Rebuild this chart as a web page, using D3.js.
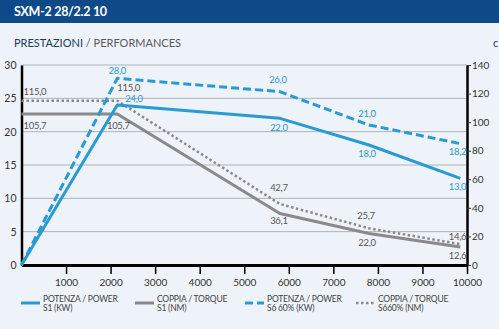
<!DOCTYPE html>
<html>
<head>
<meta charset="utf-8">
<script src="https://cdn.jsdelivr.net/npm/d3@7"></script>
<style>
  body { margin: 0; background: #eef3fa; }
  svg { display: block; font-family: Lato, "Open Sans", sans-serif; }
</style>
</head>
<body>
<svg id="chart" width="499" height="329"></svg>
<script>
// rpm where the curves bend
const rpm = [0, 2150, 5800, 7800, 9850];
const rpmTorque = [0, 2150, 5800, 7800, 9850];

// power (kW, left axis)
const powerS1 = [0, 24.0, 22.0, 18.0, 13.0];
const powerS6 = [0, 28.0, 26.0, 21.0, 18.2];
// torque (Nm, right axis)
const torqueS1 = [105.7, 105.7, 36.1, 22.0, 12.6];
const torqueS6 = [115.0, 115.0, 42.7, 25.7, 14.6];

const leftTicks = [0, 5, 10, 15, 20, 25, 30];
const rightTicks = [0, 20, 40, 60, 80, 100, 120, 140];
const xTicks = [1000, 2000, 3000, 4000, 5000, 6000, 7000, 8000, 9000, 10000];

const legendNames = [
    ["POTENZA / POWER", "S1 (KW)"],
    ["COPPIA / TORQUE", "S1 (NM)"],
    ["POTENZA / POWER", "S6 60% (KW)"],
    ["COPPIA / TORQUE", "S660% (NM)"]
];

const blue = "#2a9ad5";
const grey = "#8a8a8a";

const svg = d3.select("#chart");

const x = d3.scaleLinear().domain([0, 10000]).range([21.5, 467]);
const yL = d3.scaleLinear().domain([0, 30]).range([265, 65]);
const yR = d3.scaleLinear().domain([0, 140]).range([265, 65]);

// background + header
svg.append("rect")
    .attr("width", 499)
    .attr("height", 329)
    .attr("fill", "#eef3fa");
svg.append("rect")
    .attr("width", 499)
    .attr("height", 23)
    .attr("fill", "#0e4a87");
svg.append("text")
    .attr("x", 14)
    .attr("y", 16)
    .attr("fill", "#fff")
    .attr("font-weight", "bold")
    .attr("font-size", 12.5)
    .attr("letter-spacing", -0.3)
    .text("SXM-2 28/2.2 10");

const sub = svg.append("text")
    .attr("x", 14)
    .attr("y", 47)
    .attr("font-size", 11);
sub.append("tspan").attr("fill", "#1d3c5e").text("PRESTAZIONI");
sub.append("tspan").attr("fill", "#5a5a5a").text(" / PERFORMANCES");
svg.append("text")
    .attr("x", 493)
    .attr("y", 47)
    .attr("font-size", 11)
    .attr("fill", "#1d3c5e")
    .text("c");

// grid
svg.append("g")
    .selectAll("line")
    .data(leftTicks.slice(1))
    .enter()
    .append("line")
    .attr("x1", x(0))
    .attr("x2", x(10000))
    .attr("y1", d => yL(d))
    .attr("y2", d => yL(d))
    .attr("stroke", "#aeb2b8")
    .attr("stroke-width", 1);

// axes
const leftAxis = svg.append("g")
    .attr("transform", "translate(" + x(0) + ",0)")
    .call(d3.axisLeft(yL).tickValues(leftTicks).tickSize(0).tickPadding(5));
leftAxis.select(".domain").attr("stroke", "#000").attr("stroke-width", 2.5);
leftAxis.selectAll("text").attr("font-size", 10.5).attr("fill", "#333").attr("font-family", "Lato, sans-serif");

const rightAxis = svg.append("g")
    .attr("transform", "translate(" + x(10000) + ",0)")
    .call(d3.axisRight(yR).tickValues(rightTicks).tickSize(4).tickPadding(1).tickSizeOuter(0));
rightAxis.select(".domain").attr("stroke", "#000").attr("stroke-width", 2.5);
rightAxis.selectAll("line").attr("stroke", "#333");
rightAxis.selectAll("text").attr("font-size", 10).attr("fill", "#333").attr("font-family", "Lato, sans-serif");

const bottomAxis = svg.append("g")
    .attr("transform", "translate(0," + yL(0) + ")")
    .call(d3.axisBottom(x).tickValues(xTicks).tickFormat(d3.format("d")).tickSize(9).tickPadding(5).tickSizeOuter(0));
bottomAxis.select(".domain").attr("stroke", "#000").attr("stroke-width", 3);
bottomAxis.selectAll("line").attr("stroke", "#000").attr("stroke-width", 1.5);
bottomAxis.selectAll("text").attr("font-size", 10).attr("fill", "#333").attr("font-family", "Lato, sans-serif");

// curves
function drawCurve(xs, ys, yScale, color, width, dash) {
    const pts = xs.map((v, i) => [x(v), yScale(ys[i])]);
    svg.append("path")
        .attr("d", d3.line()(pts))
        .attr("fill", "none")
        .attr("stroke", color)
        .attr("stroke-width", width)
        .attr("stroke-linejoin", "round")
        .attr("stroke-dasharray", dash);
    return pts;
}

drawCurve(rpmTorque, torqueS1, yR, grey, 3, null);
drawCurve(rpmTorque, torqueS6, yR, grey, 2.5, "2.5,2.5");
drawCurve(rpm, powerS1, yL, blue, 3, null);
drawCurve(rpm, powerS6, yL, blue, 3, "8,4");

// value labels: [series, index, dx, dy, anchor, scale, rpm, colour]
const labelSpots = [
    [torqueS6, 0, 2, -6, "start", yR, rpmTorque, "#555"],
    [torqueS6, 1, 0, -10, "start", yR, rpmTorque, "#555"],
    [torqueS1, 0, 2, 15, "start", yR, rpmTorque, "#555"],
    [torqueS1, 1, 1, 15, "middle", yR, rpmTorque, "#555"],
    [powerS6, 1, 0, -4, "middle", yL, rpm, blue],
    [powerS1, 1, 8, -3, "start", yL, rpm, blue],
    [powerS6, 2, -2, -9, "middle", yL, rpm, blue],
    [powerS1, 2, -1, 13, "middle", yL, rpm, blue],
    [torqueS6, 2, -1, -13, "middle", yR, rpmTorque, "#555"],
    [torqueS1, 2, -1, 11, "middle", yR, rpmTorque, "#555"],
    [powerS6, 3, -2, -8, "middle", yL, rpm, blue],
    [powerS1, 3, -2, 12, "middle", yL, rpm, blue],
    [torqueS6, 3, -3, -9, "middle", yR, rpmTorque, "#555"],
    [torqueS1, 3, -2, 12, "middle", yR, rpmTorque, "#555"],
    [powerS6, 4, 6, 11, "end", yL, rpm, blue],
    [powerS1, 4, 6, 12, "end", yL, rpm, blue],
    [torqueS6, 4, 6, -4, "end", yR, rpmTorque, "#555"],
    [torqueS1, 4, 6, 12, "end", yR, rpmTorque, "#555"]
];

const fmt = v => d3.format(".1f")(v).replace(".", ",");
svg.append("g")
    .selectAll("text")
    .data(labelSpots)
    .enter()
    .append("text")
    .attr("x", d => x(d[6][d[1]]) + d[2])
    .attr("y", d => d[5](d[0][d[1]]) + d[3])
    .attr("text-anchor", d => d[4])
    .attr("font-size", 9.5)
    .attr("letter-spacing", -0.3)
    .attr("fill", d => d[7])
    .text(d => fmt(d[0][d[1]]));

// legend
const legendX = [21, 135, 245, 356];
const legendStyle = [
    [blue, 3, null],
    [grey, 3, null],
    [blue, 3, "8,4"],
    [grey, 2.5, "2.5,2.5"]
];
legendNames.forEach((names, i) => {
    const g = svg.append("g").attr("transform", "translate(" + legendX[i] + ",303)");
    g.append("line")
        .attr("x1", 0)
        .attr("x2", 19)
        .attr("stroke", legendStyle[i][0])
        .attr("stroke-width", legendStyle[i][1])
        .attr("stroke-dasharray", legendStyle[i][2]);
    g.append("text")
        .attr("x", 22)
        .attr("y", -1)
        .attr("font-size", 8.5)
        .attr("letter-spacing", -0.2)
        .attr("fill", "#444")
        .text(names[0]);
    g.append("text")
        .attr("x", 22)
        .attr("y", 8)
        .attr("font-size", 8.5)
        .attr("letter-spacing", -0.2)
        .attr("fill", "#444")
        .text(names[1]);
});
</script>
</body>
</html>
